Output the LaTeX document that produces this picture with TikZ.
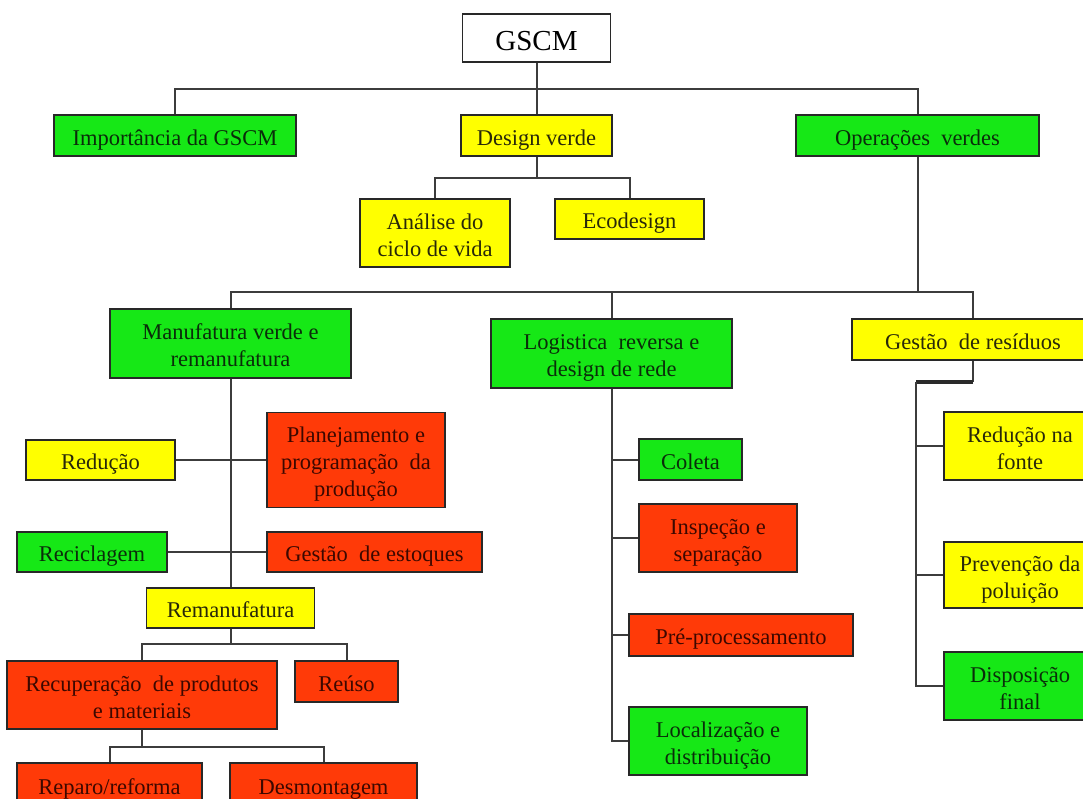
\documentclass[tikz,border=0pt]{standalone}
\usepackage{fontspec}
\setmainfont{Liberation Serif}
\definecolor{gbox}{RGB}{22,232,22}
\definecolor{ybox}{RGB}{255,255,0}
\definecolor{rbox}{RGB}{255,58,8}
\definecolor{edge}{RGB}{40,40,40}
\definecolor{conncol}{RGB}{60,60,60}
\definecolor{gtext}{RGB}{10,45,10}
\definecolor{ytext}{RGB}{40,40,10}
\definecolor{rtext}{RGB}{60,8,0}
\newcommand{\lnx}[1]{\rule[-1pt]{0pt}{21pt}\smash{#1}}
\tikzset{
  box/.style={draw=edge, line width=1.6pt, inner sep=0pt, align=center,
    font=\fontsize{22.5}{27}\selectfont},
  gb/.style={box, fill=gbox, text=gtext},
  yb/.style={box, fill=ybox, text=ytext},
  rb/.style={box, fill=rbox, text=rtext},
  conn/.style={draw=conncol, line width=2pt},
  thickconn/.style={draw=conncol!70!black, line width=4pt},
}
\newcommand{\bx}[6]{\node[#1, minimum width=#4pt, minimum height=#5pt] (#2) at (#3) {#6};}
\begin{document}
\begin{tikzpicture}[x=1pt,y=-1pt]
\useasboundingbox (0,0) rectangle (1083,798);
\fill[white] (0,0) rectangle (1083,798);

% level 0
\node[box, fill=white, text=black, minimum width=148pt, minimum height=48pt,
  font=\fontsize{29}{32}\selectfont] (gscm) at (536.5,38)
  {\rule[-2pt]{0pt}{28pt}\smash{GSCM}};

% level 1
\bx{gb}{imp}{175,135.5}{242}{41}{\lnx{Importância da GSCM}}
\bx{yb}{dv}{536.5,135.5}{151}{41}{\lnx{Design verde}}
\bx{gb}{ov}{917.5,135.5}{243}{41}{\lnx{Operações\ \ verdes}}

% design verde children
\bx{yb}{ana}{435,233}{150}{68}{\lnx{Análise do}\\\lnx{ciclo de vida}}
\bx{yb}{eco}{629.5,219}{149}{40}{\lnx{Ecodesign}}

% operacoes verdes children
\bx{gb}{man}{230.5,343.5}{241}{69}{\lnx{Manufatura verde e}\\\lnx{remanufatura}}
\bx{gb}{log}{611.5,353.5}{241}{69}{\lnx{Logistica\ \ reversa e}\\\lnx{design de rede}}
\bx{yb}{ges}{973,339.5}{242}{41}{\lnx{Gestão\ \ de resíduos}}

% manufatura children
\bx{yb}{red}{100.5,460}{149}{40}{\lnx{Redução}}
\bx{rb}{pla}{356,460}{178}{95}{\lnx{Planejamento e}\\\lnx{programação\ \ da}\\\lnx{produção}}
\bx{gb}{rec}{92,552}{150}{40}{\lnx{Reciclagem}}
\bx{rb}{est}{374.5,552}{215}{40}{\lnx{Gestão\ \ de estoques}}
\bx{yb}{rem}{230.5,608}{168}{40}{\lnx{Remanufatura}}
\bx{rb}{recu}{142,695}{270}{68}{\lnx{Recuperação\ \ de produtos}\\\lnx{e materiais}}
\bx{rb}{reu}{346.5,681.5}{103}{41}{\lnx{Reúso}}
\bx{rb}{rep}{109.5,785}{185}{44}{\lnx{Reparo/reforma}}
\bx{rb}{des}{323.5,785}{187}{44}{\lnx{Desmontagem}}

% logistica children
\bx{gb}{col}{690.5,459.5}{103}{41}{\lnx{Coleta}}
\bx{rb}{ins}{718,538}{158}{68}{\lnx{Inspeção e}\\\lnx{separação}}
\bx{rb}{pre}{741,635}{224}{42}{\lnx{Pré-processamento}}
\bx{gb}{loc}{718,741}{178}{68}{\lnx{Localização e}\\\lnx{distribuição}}

% gestao de residuos children
\bx{yb}{rnf}{1020,446}{152}{68}{\lnx{Redução na}\\\lnx{fonte}}
\bx{yb}{pp}{1020,575}{152}{66}{\lnx{Prevenção da}\\\lnx{poluição}}
\bx{gb}{df}{1020,686}{152}{68}{\lnx{Disposição}\\\lnx{final}}

% connectors: GSCM
\coordinate (b1) at (536.5,89);
\draw[conn] (gscm.south) -- (dv.north);
\draw[conn] (imp.north) |- (b1);
\draw[conn] (ov.north) |- (b1);

% design verde
\coordinate (b2) at (536.5,178);
\draw[conn] (dv.south) -- (b2);
\draw[conn] (ana.north) |- (b2);
\draw[conn] (eco.north) |- (b2);

% operacoes verdes
\coordinate (b3) at (917.5,292);
\draw[conn] (ov.south) -- (b3);
\draw[conn] (man.north) |- (b3);
\draw[conn] (log.north) |- (b3);
\draw[conn] (ges.north) |- (b3);

% manufatura
\draw[conn] (man.south) -- (rem.north);
\draw[conn] (red.east) -- (pla.west);
\draw[conn] (rec.east) -- (est.west);

% remanufatura
\coordinate (b4) at (230.5,644);
\draw[conn] (rem.south) -- (b4);
\draw[conn] (recu.north) |- (b4);
\draw[conn] (reu.north) |- (b4);

% recuperacao
\coordinate (b5) at (142,747);
\draw[conn] (recu.south) -- (b5);
\draw[conn] (rep.north) |- (b5);
\draw[conn] (des.north) |- (b5);

% logistica
\coordinate (lv) at (611.5,741);
\draw[conn] (log.south) -- (lv) -- (loc.west);
\draw[conn] (col.west) -- (col.west -| lv);
\draw[conn] (ins.west) -- (ins.west -| lv);
\draw[conn] (pre.west) -- (pre.west -| lv);

% gestao de residuos
\coordinate (g1) at (973,382);
\coordinate (g2) at (915.5,382);
\coordinate (g3) at (915.5,686);
\draw[conn, line width=2.4pt] (ges.south) -- (g1);
\draw[thickconn] (g1) -- (g2);
\draw[conn] (g2) -- (g3) -- (df.west);
\draw[conn] (rnf.west) -- (rnf.west -| g2);
\draw[conn] (pp.west) -- (pp.west -| g2);
\end{tikzpicture}
\end{document}
